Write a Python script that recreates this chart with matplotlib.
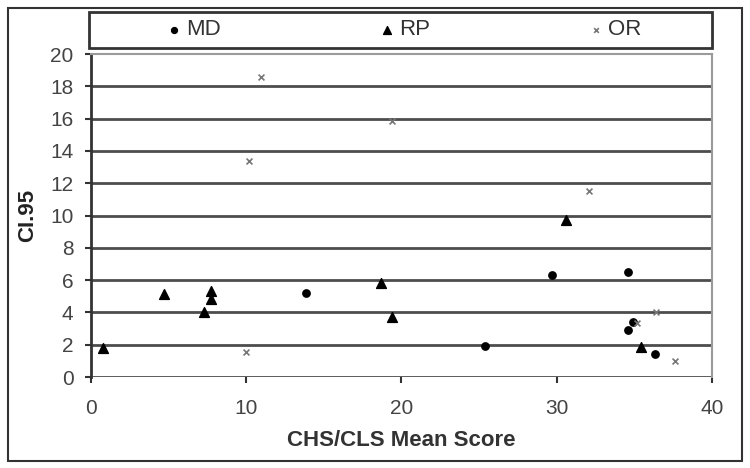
import matplotlib
matplotlib.use("Agg")
import matplotlib.pyplot as plt
from matplotlib.patches import Rectangle

plt.rcParams['font.family'] = ['Liberation Sans', 'DejaVu Sans']

# data
md_x = [13.85, 25.4, 29.7, 34.6, 34.9, 34.6, 36.3]
md_y = [5.2, 1.9, 6.3, 6.5, 3.4, 2.9, 1.4]

rp_x = [0.8, 4.7, 7.3, 7.75, 7.75, 18.7, 19.4, 30.6, 35.4]
rp_y = [1.8, 5.15, 4.05, 5.35, 4.85, 5.85, 3.7, 9.75, 1.85]

or_x = [10.0, 10.2, 10.95, 19.4, 32.1, 35.2, 36.4, 37.6]
or_y = [1.55, 13.4, 18.6, 15.85, 11.55, 3.35, 4.0, 1.0]

x_ticks = [0, 10, 20, 30, 40]
y_ticks = list(range(0, 21, 2))

fig = plt.figure(figsize=(7.5, 4.68), dpi=100)
ax = fig.add_axes([0.1213, 0.1944, 0.828, 0.690])

ax.scatter(md_x, md_y, marker='o', s=28, color='black', zorder=3, label='MD')
ax.scatter(rp_x, rp_y, marker='^', s=50, color='black', zorder=3, label='RP')
ax.scatter(or_x, or_y, marker='x', s=18, color='#777777', linewidths=1.2, zorder=3, label='OR')

ax.set_xlim(0, 40)
ax.set_ylim(0, 20)
ax.set_xticks(x_ticks)
ax.set_yticks(y_ticks)

# horizontal grid lines
for y in y_ticks[:-1]:
    ax.axhline(y, color='#4d4d4d', linewidth=2, zorder=1)

ax.spines['left'].set_linewidth(2)
ax.spines['left'].set_color('#333333')
ax.spines['bottom'].set_visible(False)
ax.spines['top'].set_color('#9a9a9a')
ax.spines['top'].set_linewidth(1.5)
ax.spines['right'].set_color('#9a9a9a')
ax.spines['right'].set_linewidth(1.5)

ax.tick_params(axis='both', direction='out', length=4.5, width=1.5, colors='#333333',
               labelsize=15, labelcolor='#444444')
ax.tick_params(axis='y', pad=8)
ax.tick_params(axis='x', pad=11)

ax.set_xlabel("CHS/CLS Mean Score", fontsize=16, fontweight='bold', color='#333333', labelpad=9)
ax.set_ylabel("CI.95", fontsize=16, fontweight='bold', color='#222222', labelpad=9)

# legend box above the plot
leg = fig.legend(loc='center', bbox_to_anchor=(0.540, 0.936), ncol=3, frameon=False,
                 fontsize=16, columnspacing=7.2, handlelength=0.5, handletextpad=0.3,
                 scatterpoints=1, markerscale=0.8)
for t in leg.get_texts():
    t.set_color('#333333')
fig.patches.append(Rectangle((89 / 750, 1 - 48 / 468), (712 - 89) / 750, 36 / 468,
                             transform=fig.transFigure, fill=False,
                             edgecolor='#333333', linewidth=2))

# outer border
fig.patches.append(Rectangle((8 / 750, 1 - 461 / 468), (742 - 8) / 750, 453 / 468,
                             transform=fig.transFigure, fill=False,
                             edgecolor='#333333', linewidth=1.5))

fig.savefig("out.png", dpi=100)
